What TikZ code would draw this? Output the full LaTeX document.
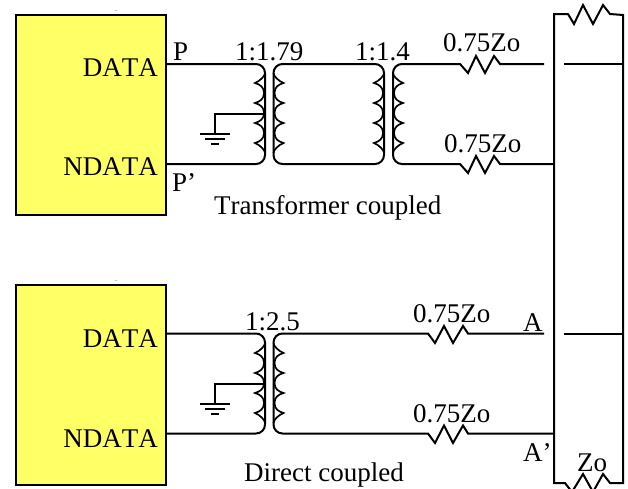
\documentclass[tikz,border=0pt]{standalone}
\usepackage{fontspec}
\setmainfont[Kerning=Off]{Liberation Serif}
\tikzset{
  x=1pt,y=-1pt,
  wire/.style={draw=black,line width=2pt,line join=miter},
  thin wire/.style={draw=black,line width=1.7pt,line join=miter},
  chip/.style={draw=black,line width=1.7pt,fill=yellowfill,minimum width=150pt,minimum height=200pt,inner sep=0pt,anchor=north west},
  lab/.style={inner sep=0pt,font=\fontsize{27}{30}\selectfont,text=black},
  labw/.style={lab,anchor=base west},
  labe/.style={lab,anchor=base east},
  coil L/.pic={\draw[thin wire] (0,-40) .. controls (0,-37) and (-5,-32) .. (-10,-30) .. controls (-5,-28.5) and (-1,-26) .. (-1,-20) .. controls (-1,-14) and (-5,-11.5) .. (-10,-10) .. controls (-5,-8.5) and (-1,-6) .. (-1,0) .. controls (-1,6) and (-5,8.5) .. (-10,10) .. controls (-5,11.5) and (-1,14) .. (-1,20) .. controls (-1,26) and (-5,28.5) .. (-10,30) .. controls (-5,32) and (0,37) .. (0,40);},
  coil R/.pic={\draw[thin wire] (0,-40) .. controls (0,-37) and (5,-32) .. (10,-30) .. controls (5,-28.5) and (1,-26) .. (1,-20) .. controls (1,-14) and (5,-11.5) .. (10,-10) .. controls (5,-8.5) and (1,-6) .. (1,0) .. controls (1,6) and (5,8.5) .. (10,10) .. controls (5,11.5) and (1,14) .. (1,20) .. controls (1,26) and (5,28.5) .. (10,30) .. controls (5,32) and (0,37) .. (0,40);},
  earth/.pic={\draw[wire] (-15,0) -- (15,0) (-10,5) -- (10,5) (-4,10) -- (4,10);},
}
\definecolor{yellowfill}{HTML}{FFFF66}
\begin{document}
\begin{tikzpicture}
\useasboundingbox (0,0) rectangle (628,488);
\clip (0,0) rectangle (628,488);
\fill[white] (0,0) rectangle (628,488);
% chips
\node[chip] (chipA) at (15,14) {};
\node[chip] (chipB) at (15,284) {};
\fill[gray] (116,10.5) circle (0.6) (116,280.5) circle (0.6);
% named terminals
\coordinate (pA) at (chipA.north east |- 0,64);
\coordinate (nA) at (chipA.north east |- 0,164);
\coordinate (pB) at (chipB.north east |- 0,333.5);
\coordinate (nB) at (chipB.north east |- 0,433.5);
% transformer 1
\draw[wire,rounded corners=9pt] (pA) -- (265,64) -- (265,164) -- (nA);
\draw[wire,rounded corners=9pt] (273.5,64) rectangle (384,164);
\draw[wire,rounded corners=9pt] (403,64) -- (393,64) -- (393,164) -- (403,164);
\pic at (265,113) {coil L};
\pic at (273.5,113) {coil R};
\pic at (384,113) {coil L};
\pic at (393,113) {coil R};
\coordinate (gndA) at (215,134);
\draw[wire] (265,113.5) -- (215,113.5) -- (gndA);
\pic at (gndA) {earth};
% transformer 2
\draw[wire,rounded corners=9pt] (pB) -- (265,333.5) -- (265,433.5) -- (nB);
\draw[wire,rounded corners=9pt] (424,333.5) -- (273.5,333.5) -- (273.5,433.5) -- (424,433.5);
\pic at (265,383) {coil L};
\pic at (273.5,383) {coil R};
\coordinate (gndB) at (215,404);
\draw[wire] (265,383.5) -- (215,383.5) -- (gndB);
\pic at (gndB) {earth};
% series resistors, upper
\draw[wire] (403,64) -- (460,64) -- (468,73) -- (476,56) -- (485,73) -- (494,56) -- (500,64) -- (544,64);
\draw[wire] (403,164) -- (460,164) -- (468,173) -- (476,156) -- (485,173) -- (494,156) -- (500,164) -- (554,164);
% series resistors, lower
\draw[wire] (424,333.5) -- (428,333.5) -- (435,343) -- (444,326) -- (453,343) -- (463,326) -- (468,333.5) -- (544,333.5);
\draw[wire] (424,433.5) -- (428,433.5) -- (435,443) -- (444,425.5) -- (453,443) -- (463,425.5) -- (468,433.5) -- (554,433.5);
% line loop
\coordinate (tl) at (554,14);
\coordinate (tr) at (623,15);
\coordinate (bl) at (554,483);
\coordinate (br) at (623,483);
\draw[wire] (tl) -- (568,14) -- (574,24) -- (583,5) -- (593,24) -- (603,5) -- (610,14) -- (tr) -- (br) -- (610,483) -- (603,474) -- (593,492) -- (583,474) -- (572,492) -- (565,483) -- (bl) -- cycle;
\draw[wire] (564,63.5) -- (tr |- 0,63.5);
\draw[wire] (564,333.5) -- (tr |- 0,333.5);
% labels
\node[labe] (t1) at (158,76) {DATA};
\node[labe] (t2) at (158,175) {NDATA};
\node[labe] (t3) at (158,347) {DATA};
\node[labe] (t4) at (158,447) {NDATA};
\node[labw] (t5) at (173,60) {P};
\node[labw] (t6) at (172,191) {P’};
\node[labw] (t7) at (235,60) {1:1.79};
\node[labw] (t8) at (355,60) {1:1.4};
\node[labw] (t9) at (443,51) {0.75Zo};
\node[labw] (t10) at (444,152) {0.75Zo};
\node[labw] (t11) at (214,214.5) {Transformer coupled};
\node[labw] (t12) at (245,330) {1:2.5};
\node[labw] (t13) at (413,322) {0.75Zo};
\node[labw] (t14) at (413,422) {0.75Zo};
\node[labw] (t15) at (523,331) {A};
\node[labw] (t16) at (523,461) {A’};
\node[labw] (t17) at (577,471) {Zo};
\node[labw] (t18) at (244,481.5) {Direct coupled};
\end{tikzpicture}
\end{document}
